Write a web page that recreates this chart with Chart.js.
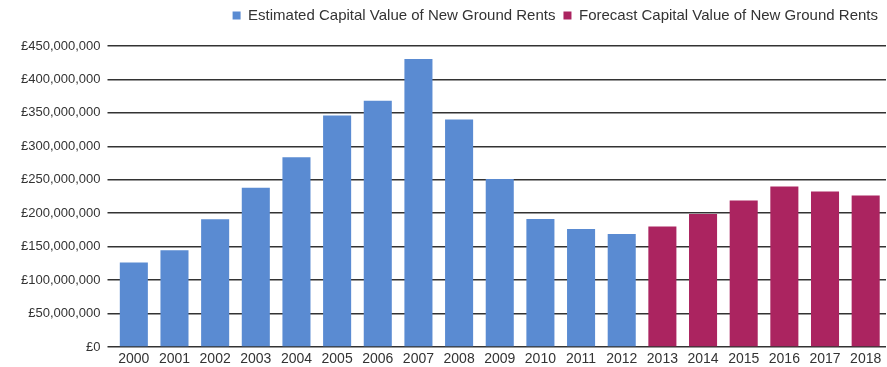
<!DOCTYPE html>
<html>
<head>
<meta charset="utf-8">
<script src="https://cdn.jsdelivr.net/npm/chart.js@4/dist/chart.umd.min.js"></script>
<style>
  html, body { margin: 0; padding: 0; background: #fff; }
  #wrap { width: 887px; height: 367px; }
</style>
</head>
<body>
<div id="wrap"><canvas id="rentsChart"></canvas></div>
<script>
const years = ['2000', '2001', '2002', '2003', '2004', '2005', '2006', '2007', '2008', '2009',
    '2010', '2011', '2012', '2013', '2014', '2015', '2016', '2017', '2018'];

// capital values in pounds
const estimatedValues = [126500000, 144500000, 191000000, 238000000, 283500000, 346000000,
    368000000, 430500000, 340000000, 251000000, 191500000, 176500000, 169000000,
    null, null, null, null, null, null];
const forecastValues = [null, null, null, null, null, null, null, null, null, null,
    null, null, null, 180000000, 199000000, 219000000, 240000000, 232500000, 226500000];

const yTicks = [0, 50000000, 100000000, 150000000, 200000000, 250000000,
    300000000, 350000000, 400000000, 450000000];

const FONT = '"Liberation Sans", Arial, Helvetica, sans-serif';

// keep the legend strip a fixed height so the plot starts at the same place
const legendHeight = {
    id: 'legendHeight',
    beforeInit(chart) {
        const fit = chart.legend.fit;
        chart.legend.fit = function () {
            fit.bind(chart.legend)();
            this.height = 46;
        };
    }
};

new Chart(document.getElementById('rentsChart'), {
    type: 'bar',
    data: {
        labels: years,
        datasets: [{
            label: 'Estimated Capital Value of New Ground Rents',
            data: estimatedValues,
            backgroundColor: '#5a8bd2',
            grouped: false,
            barPercentage: 0.69,
            categoryPercentage: 1
        }, {
            label: 'Forecast Capital Value of New Ground Rents',
            data: forecastValues,
            backgroundColor: '#ab2460',
            grouped: false,
            barPercentage: 0.69,
            categoryPercentage: 1
        }]
    },
    plugins: [legendHeight],
    options: {
        responsive: true,
        maintainAspectRatio: false,
        animation: false,
        layout: { padding: { left: 0, right: 1, top: 0, bottom: 0 } },
        plugins: {
            legend: {
                position: 'top',
                align: 'end',
                labels: {
                    boxWidth: 8,
                    boxHeight: 8,
                    padding: 8,
                    color: '#333',
                    font: { family: FONT, size: 15 }
                }
            },
            tooltip: { enabled: false }
        },
        scales: {
            x: {
                grid: { display: false, drawTicks: false },
                border: { display: false },
                ticks: {
                    color: '#333',
                    padding: 4,
                    font: { family: FONT, size: 14 }
                },
                afterFit(scale) { scale.height = 20; }
            },
            y: {
                min: 0,
                max: 450000000,
                border: { display: false },
                grid: { color: '#333', lineWidth: 1.5, tickLength: 6 },
                afterBuildTicks(scale) {
                    scale.ticks = yTicks.map(v => ({ value: v }));
                },
                ticks: {
                    color: '#333',
                    padding: 7,
                    font: { family: FONT, size: 13 },
                    callback: v => '£' + v.toLocaleString('en-GB')
                },
                afterFit(scale) { scale.width = 113.5; }
            }
        }
    }
});
</script>
</body>
</html>
